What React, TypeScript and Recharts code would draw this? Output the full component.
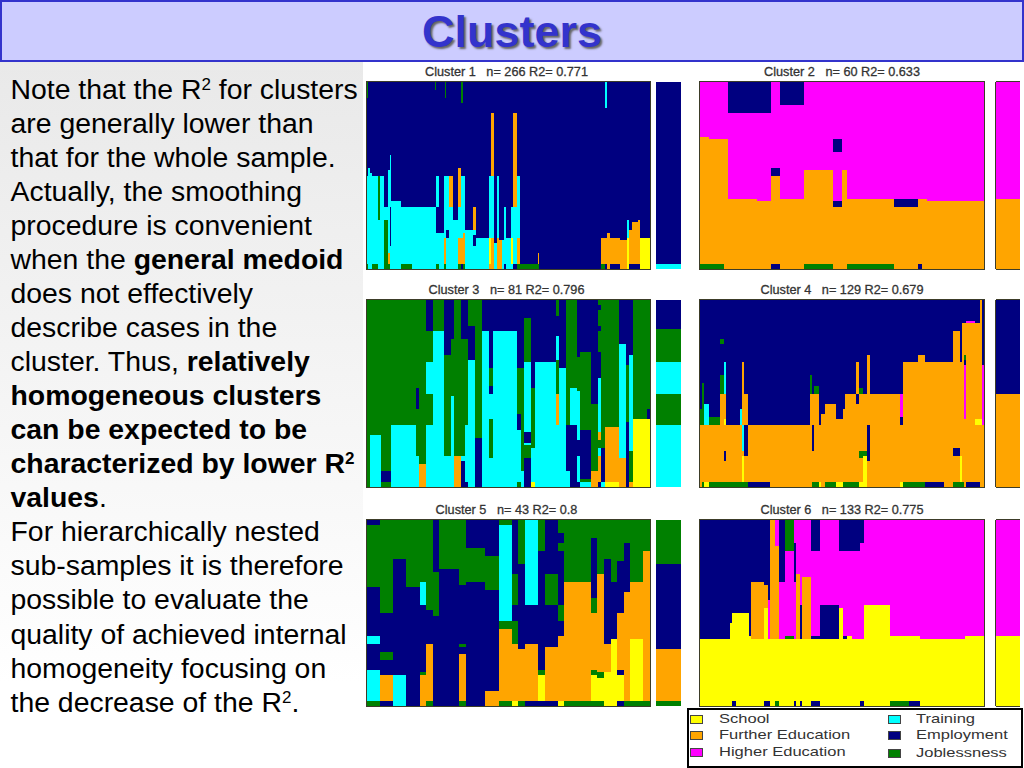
import { Bar, BarChart, Cell, XAxis, YAxis } from "recharts";

// each column: [number of cases, states from the bottom with the month each one ends at]
type Column = [number, string];

const MONTHS = 72;

const STATE_COLORS: Record<string, string> = {
  S: "#ffff00",
  F: "#ffa500",
  H: "#ff00ff",
  T: "#00ffff",
  E: "#000080",
  J: "#008000",
};

const LEGEND_LEFT: [string, string][] = [
  ["S", "School"],
  ["F", "Further Education"],
  ["H", "Higher Education"],
];
const LEGEND_RIGHT: [string, string][] = [
  ["T", "Training"],
  ["E", "Employment"],
  ["J", "Joblessness"],
];

const CLUSTER_1: Column[] = [
  [1, "J2 T36 E66 J72"], [2, "T39 E72"], [2, "T37 E72"], [5, "J2 T36 E72"], [2, "T19 J36 E72"],
  [4, "T36 E72"], [4, "J19 T24 E72"], [2, "J2 F6 T38 E72"], [1, "T9 E24 T44 E72"], [9, "T26 E72"],
  [10, "J2 T24 E72"], [22, "T24 E72"], [1, "T24 E69 J72"], [3, "J2 T14 E24 T36 E72"], [4, "T14 E72"],
  [1, "J2 F12 T36 E72"], [1, "J2 F12 T36 E66 J72"], [3, "T12 E15 T36 E72"], [4, "T24 F36 E72"], [5, "T19 E72"],
  [2, "J2 F12 T24 F39 E72"], [2, "E2 F12 T36 E64 J72"], [2, "J2 F14 T36 E72"], [8, "T15 E72"],
  [2, "T9 E13 T15 F24 E72"], [13, "T12 E72"], [2, "F2 S12 T36 E72"], [2, "F12 T36 F60 E72"], [3, "T10 E72"],
  [2, "F12 T36 E72"], [3, "F11 E72"], [2, "T11 E72"], [2, "E2 T24 E72"], [4, "T12 E72"], [2, "T2 S12 T24 E72"],
  [4, "E2 T24 F60 E72"], [3, "J2 F12 T36 E72"], [17, "J2 E72"], [1, "J2 F6 E72"], [58, "E72"],
  [4, "J2 F12 E72"], [2, "E2 F12 E62 T72"], [2, "F14 E72"], [10, "E2 F12 E72"], [6, "F11 E72"],
  [2, "S12 T19 E72"], [3, "E2 F15 E72"], [6, "E2 F18 E72"], [2, "E2 F19 E72"], [9, "S12 E72"],
];
const MEDOID_1: Column[] = [[1, "T2 E72"]];

const CLUSTER_2: Column[] = [
  [2, "J2 F51 H72"], [3, "J2 F50 H72"], [1, "F50 H72"], [6, "F27 H60 E72"], [3, "F26 H60 E72"],
  [2, "E2 F36 E39 H72"], [5, "F27 H63 E72"], [6, "J2 F38 H72"], [2, "F24 E26 H45 E50 H72"], [1, "F38 H72"],
  [10, "J2 F27 H72"], [5, "F24 E27 H72"], [1, "E2 F27 H72"], [1, "F27 H72"], [12, "F26 H72"],
];
const MEDOID_2: Column[] = [[1, "F27 H72"]];

const CLUSTER_3: Column[] = [
  [1, "J72"], [3, "T20 J72"], [3, "J2 E6 J72"], [7, "T24 J72"], [1, "T12 J30 E38 J72"], [2, "F9 J72"],
  [2, "T24 J36 T48 J60 E72"], [3, "T60 J72"], [2, "T12 J51 E72"], [1, "T35 J57 E72"], [2, "F12 J72"],
  [1, "E10 T12 J57 E72"], [1, "E2 T24 J57 E72"], [2, "T49 E62 J72"], [2, "E19 J72"], [2, "T60 E72"],
  [1, "T11 J26 T36 E39 J46 E72"], [7, "T60 E72"], [1, "J2 T22 E28 J46 E72"], [1, "T6 J46 E72"],
  [2, "E11 J16 T17 E21 T48 J65 E72"], [1, "S2 T15 J38 E72"], [6, "T48 E72"], [1, "T24 F36 J49 T58 E66 J72"],
  [2, "T46 E72"], [1, "T6 E24 J72"], [2, "E24 T38 J72"], [1, "E2 T12 E18 T37 J50 E72"], [3, "T2 J3 E22 J52 E72"],
  [2, "F6 J32 E40 E72"], [1, "E2 F12 T15 J18 F21 T42 E52 J60 E62 J68 E70 J72"], [1, "T2 E15 J72"],
  [4, "S2 F23 J72"], [2, "F11 T55 E72"], [1, "E25 J47 E72"], [1, "F2 J14 T51 E72"], [4, "S26 J72"], [1, "S26 E30 J72"],
];
const MEDOID_3: Column[] = [[1, "T24 J36 T48 J61 E72"]];

const CLUSTER_4: Column[] = [
  [1, "F24 J30 E72"], [1, "J2 F24 J40 E72"], [2, "S2 F24 T32 E72"], [5, "J2 F24 J27 E72"],
  [2, "J2 F36 J43 E55 J57 E72"], [1, "J2 F10 E14 F24 S26 F36 T48 E72"], [6, "J2 F24 E72"], [1, "J2 F24 T30 E72"],
  [1, "J2 S12 F14 T24 F48 E72"], [2, "J2 F12 E24 F36 E72"], [10, "E2 F24 E72"], [18, "F24 E72"], [1, "F36 J43 E72"],
  [1, "J2 F14 E24 F36 E72"], [2, "J2 F36 J39 E72"], [1, "S2 F24 E72"], [2, "F28 E72"], [5, "J2 F32 E72"],
  [3, "S2 F26 E72"], [1, "J2 F30 E72"], [5, "J2 F36 E72"], [1, "J2 F32 E36 F48 E72"], [2, "S2 F11 J14 F36 J38 E72"],
  [2, "S12 J14 F36 E72"], [1, "F10 E24 F51 E72"], [14, "F36 E72"], [1, "S2 F24 E27 H36 E72"], [7, "J2 F48 E72"],
  [3, "J2 F51 E72"], [9, "E2 F48 E72"], [4, "F48 E72"], [3, "J2 F12 E15 F60 E72"], [1, "J2 S12 F48 E72"],
  [1, "J2 F26 F63 E72"], [1, "F26 H47 E49 J51 F63 E72"], [4, "E2 F26 F63 H64 E72"], [2, "E2 F24 S26 F63 E72"],
  [1, "F24 S26 F72"], [1, "F24 H47 E72"],
];
const MEDOID_4: Column[] = [[1, "F36 E72"]];

const CLUSTER_5: Column[] = [
  [2, "J2 T14 E24 T27 E46 J70 E72"], [2, "E2 F12 E18 J21 E36 J72"], [2, "T12 E57 J72"], [2, "E46 J72"],
  [1, "F12 J13 E39 T48 J72"], [1, "J2 F24 E37 J72"], [1, "E35 J52 E72"], [3, "E53 J72"],
  [1, "J2 F20 E23 J24 E47 J72"], [3, "E48 J61 E72"], [2, "F6 E45 J58 E72"], [2, "J2 F30 J33 T70 J72"],
  [1, "S2 F24 J33 E39 J51 E72"], [1, "J2 F22 E55 J72"], [2, "E2 F24 E39 T72"], [1, "E2 S12 J14 E60 J72"],
  [2, "E2 F23 E39 J51 E72"], [1, "S2 F27 E33 J39 E60 J63 E67 J72"], [4, "J2 F48 J72"], [1, "J2 S12 J14 F36 J42 E65 J72"],
  [1, "J2 S11 J13 F51 J72"], [1, "S13 F24 E57 J72"], [1, "S26 E48 J72"], [1, "E2 S12 E14 F36 E56 J72"],
  [1, "J2 F44 E63 J72"], [2, "J2 S26 F48 J72"], [1, "J2 F60 J72"],
];
const MEDOID_5: Column[] = [[1, "J2 F22 E55 J72"]];

const CLUSTER_6: Column[] = [
  [14, "S26 E72"], [1, "S32 E72"], [2, "E2 S36 E72"], [6, "S36 E72"], [1, "S27 E72"], [6, "S26 F48 E72"],
  [2, "E2 S38 F47 E72"], [1, "E2 S26 H41 E72"], [2, "S26 F72"], [2, "J2 S26 F62 H72"], [3, "S26 H48 E72"],
  [4, "S26 J27 H60 J72"], [1, "E2 S26 H48 E63 H72"], [2, "S26 F51 H72"], [1, "E2 S26 E39 H72"], [4, "S26 F50 H72"],
  [4, "E2 S26 E27 H60 E72"], [9, "S26 E39 H72"], [2, "S38 H60 E72"], [2, "S26 E27 H60 E72"], [2, "S27 H60 E72"],
  [4, "S26 H60 E72"], [2, "E2 S26 H63 E72"], [12, "S39 H72"], [9, "J2 S27 H72"], [5, "E2 S27 H72"], [21, "S26 H72"], [9, "S27 H72"],
];
const MEDOID_6: Column[] = [[1, "S27 H72"]];

const TITLES = [
  "Cluster 1   n= 266 R2= 0.771",
  "Cluster 2   n= 60 R2= 0.633",
  "Cluster 3   n= 81 R2= 0.796",
  "Cluster 4   n= 129 R2= 0.679",
  "Cluster 5   n= 43 R2= 0.8",
  "Cluster 6   n= 133 R2= 0.775",
];
const CLUSTERS = [CLUSTER_1, CLUSTER_2, CLUSTER_3, CLUSTER_4, CLUSTER_5, CLUSTER_6];
const MEDOIDS = [MEDOID_1, MEDOID_2, MEDOID_3, MEDOID_4, MEDOID_5, MEDOID_6];

const FONT = '"Liberation Sans", Arial, sans-serif';
const LINE_COLOR = "#3c3c28";

const PLOT_TOPS = [82, 300, 520];
const PLOT_HEIGHTS = [187, 187, 186];

function buildRows(columns: Column[]) {
  const rows: Record<string, any>[] = [];
  let layers = 0;
  for (const [count, spec] of columns) {
    const parts = spec.split(" ");
    layers = Math.max(layers, parts.length);
    for (let c = 0; c < count; c++) {
      const row: Record<string, any> = { id: rows.length, states: [] };
      let prev = 0;
      parts.forEach((part, i) => {
        const end = Number(part.slice(1));
        row.states.push(part[0]);
        row[`seg${i}`] = end - prev;
        prev = end;
      });
      rows.push(row);
    }
  }
  return { rows, layers };
}

function StatePlot({ columns, width, height }: { columns: Column[]; width: number; height: number }) {
  const { rows, layers } = buildRows(columns);
  const segs = Array.from({ length: layers }, (_, i) => i);
  return (
    <BarChart
      width={width}
      height={height}
      data={rows}
      margin={{ top: 0, right: 0, bottom: 0, left: 0 }}
      barCategoryGap={0}
      barGap={0}
      barSize={width / rows.length - 0.00001}
      style={{ shapeRendering: "crispEdges" }}
    >
      <XAxis dataKey="id" type="category" hide />
      <YAxis type="number" domain={[0, MONTHS]} hide allowDataOverflow />
      {segs.map((i) => (
        <Bar key={i} dataKey={`seg${i}`} stackId="months" isAnimationActive={false}>
          {rows.map((row) => (
            <Cell key={row.id} fill={STATE_COLORS[row.states[i]] ?? "none"} />
          ))}
        </Bar>
      ))}
    </BarChart>
  );
}

function Panel({ index }: { index: number }) {
  const row = Math.floor(index / 2);
  const isRight = index % 2 === 1;
  const left = isRight ? 700 : 367;
  const width = isRight ? 284 : 283;
  const sideLeft = isRight ? 996 : 656;
  const sideWidth = isRight ? 24 : 25;
  const top = PLOT_TOPS[row];
  const height = PLOT_HEIGHTS[row];
  return (
    <>
      <div
        style={{
          position: "absolute",
          left: left - 40 - (isRight ? 0 : 2),
          width: width + 80,
          top: top - 18,
          height: 16,
          lineHeight: "16px",
          textAlign: "center",
          whiteSpace: "pre",
          fontFamily: FONT,
          fontSize: 12.7,
          color: "#333",
          WebkitTextStroke: "0.3px #333",
        }}
      >
        {TITLES[index]}
      </div>
      <div style={{ position: "absolute", left, top, width, height, outline: `1px solid ${LINE_COLOR}` }}>
        <StatePlot columns={CLUSTERS[index]} width={width} height={height} />
      </div>
      <div
        style={{
          position: "absolute",
          left: sideLeft,
          top,
          width: sideWidth,
          height,
          ...(isRight
            ? { boxShadow: `-1px 0 0 ${LINE_COLOR}, 0 -1px 0 ${LINE_COLOR}, 0 1px 0 ${LINE_COLOR}` }
            : {}),
        }}
      >
        <StatePlot columns={MEDOIDS[index]} width={sideWidth} height={height} />
      </div>
    </>
  );
}

function LegendRows({ items, swatchLeft, textLeft, tops }: { items: [string, string][]; swatchLeft: number; textLeft: number; tops: number[] }) {
  return (
    <>
      {items.map(([state, label], i) => (
        <div key={state}>
          <div
            style={{
              position: "absolute",
              left: swatchLeft,
              top: tops[i] - 4,
              width: 11,
              height: 7,
              background: STATE_COLORS[state],
              border: "1px solid #444",
            }}
          />
          <div
            style={{
              position: "absolute",
              left: textLeft,
              top: tops[i] - 8,
              lineHeight: "16px",
              whiteSpace: "pre",
              fontFamily: FONT,
              fontSize: 13,
              color: "#333",
              transform: "scaleX(1.27)",
              transformOrigin: "left center",
            }}
          >
            {label}
          </div>
        </div>
      ))}
    </>
  );
}

const sup = (
  <sup style={{ fontSize: 17, lineHeight: 0, verticalAlign: "baseline", position: "relative", top: -9 }}>2</sup>
);

export default function App() {
  return (
    <div
      style={{
        position: "absolute",
        left: 0,
        top: 0,
        width: 1024,
        height: 768,
        overflow: "hidden",
        background: "#fff",
        fontFamily: FONT,
      }}
    >
      <div
        style={{
          position: "absolute",
          left: 0,
          top: 62,
          width: 363,
          height: 706,
          background: "linear-gradient(180deg, #e9e9e9 0%, #ffffff 88%)",
        }}
      />
      <div
        style={{
          position: "absolute",
          left: 0,
          top: 0,
          width: 1024,
          height: 62,
          boxSizing: "border-box",
          background: "#ccccff",
          border: "2px solid #3333cc",
          textAlign: "center",
          lineHeight: "62px",
          fontWeight: 700,
          fontSize: 45,
          color: "#3333cc",
          textShadow: "2px 2px 2px #666",
        }}
      >
        <span style={{ position: "relative", top: -1 }}>Clusters</span>
      </div>
      <div
        style={{
          position: "absolute",
          left: 10.5,
          top: 71.5,
          width: 352,
          fontSize: 28.4,
          lineHeight: "34.06px",
          whiteSpace: "pre",
          color: "#000",
        }}
      >
        Note that the R{sup} for clusters{"\n"}
        are generally lower than{"\n"}
        that for the whole sample.{"\n"}
        Actually, the smoothing{"\n"}
        procedure is convenient{"\n"}
        when the <b>general medoid</b>{"\n"}
        does not effectively{"\n"}
        describe cases in the{"\n"}
        cluster. Thus, <b>relatively</b>{"\n"}
        <b>homogeneous clusters</b>{"\n"}
        <b>can be expected to be</b>{"\n"}
        <b>characterized by lower R{sup}</b>{"\n"}
        <b>values</b>.{"\n"}
        For hierarchically nested{"\n"}
        sub-samples it is therefore{"\n"}
        possible to evaluate the{"\n"}
        quality of achieved internal{"\n"}
        homogeneity focusing on{"\n"}
        the decrease of the R{sup}.
      </div>
      {TITLES.map((_, i) => (
        <Panel key={i} index={i} />
      ))}
      <div
        style={{
          position: "absolute",
          left: 687,
          top: 708,
          width: 336,
          height: 60,
          boxSizing: "border-box",
          background: "#fff",
          border: "2px solid #000",
        }}
      />
      <LegendRows items={LEGEND_LEFT} swatchLeft={690} textLeft={719} tops={[719, 735, 752]} />
      <LegendRows items={LEGEND_RIGHT} swatchLeft={888} textLeft={916} tops={[719, 735, 753]} />
    </div>
  );
}
